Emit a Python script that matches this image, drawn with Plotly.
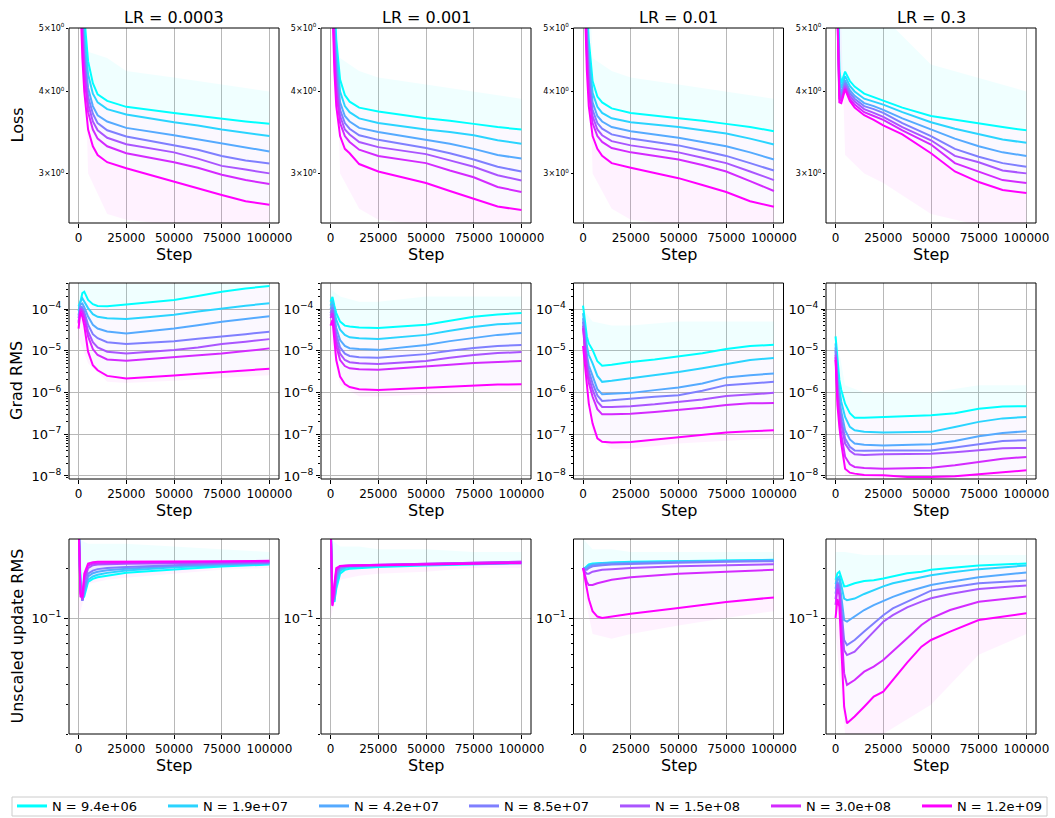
import math
import plotly.graph_objects as go

# ---------------- data ----------------
LR_TITLES = ["LR = 0.0003", "LR = 0.001", "LR = 0.01", "LR = 0.3"]
ROW_LABELS = ["Loss", "Grad RMS", "Unscaled update RMS"]
N_LABELS = ["N = 9.4e+06", "N = 1.9e+07", "N = 4.2e+07", "N = 8.5e+07",
            "N = 1.5e+08", "N = 3.0e+08", "N = 1.2e+09"]
COLORS = ["#00ffff", "#2ad4ff", "#55aaff", "#7f7fff", "#aa55ff", "#d42aff", "#ff00ff"]
X_TICKS = [0, 25000, 50000, 75000, 100000]

STEPS_LOSS = [0, 1000, 2000, 3000, 5000, 7500, 10000, 15000, 25000, 50000, 62500, 75000, 87500, 100000]
STEPS_LOSS_LR03 = [0, 1000, 2000, 3000, 5000, 7500, 10000, 15000, 20000, 25000, 35000, 50000, 62500, 75000, 87500, 100000]
STEPS_GRAD = [0, 1000, 2000, 3000, 5000, 7500, 10000, 15000, 25000, 37500, 50000, 62500, 75000, 87500, 100000]
STEPS_UPD = [0, 1000, 2000, 3000, 5000, 7500, 10000, 15000, 25000, 50000, 75000, 100000]
STEPS_UPD_LR03 = [0, 1000, 2000, 3000, 4500, 6000, 10000, 15000, 20000, 25000, 30000, 37500, 45000, 50000, 60000, 75000, 100000]

LOSS_LR0003 = [
    [10, 7.5, 6.0, 5.2, 4.45, 4.12, 3.96, 3.87, 3.79, 3.71, 3.67, 3.635, 3.60, 3.57],
    [10, 7.0, 5.6, 4.9, 4.25, 3.97, 3.85, 3.76, 3.69, 3.59, 3.55, 3.50, 3.46, 3.42],
    [10, 6.6, 5.3, 4.65, 4.05, 3.80, 3.68, 3.60, 3.52, 3.43, 3.38, 3.33, 3.28, 3.24],
    [10, 6.3, 5.1, 4.5, 3.93, 3.70, 3.58, 3.49, 3.415, 3.31, 3.26, 3.19, 3.14, 3.107],
    [10, 6.1, 4.95, 4.4, 3.83, 3.60, 3.49, 3.40, 3.324, 3.23, 3.16, 3.08, 3.04, 3.00],
    [10, 5.9, 4.8, 4.25, 3.72, 3.50, 3.39, 3.30, 3.22, 3.12, 3.06, 2.985, 2.93, 2.89],
    [10, 5.5, 4.5, 4.0, 3.50, 3.30, 3.20, 3.12, 3.055, 2.915, 2.84, 2.78, 2.72, 2.687],
]
LOSS_LR001 = [
    [10, 7.0, 5.5, 4.8, 4.17, 3.95, 3.86, 3.78, 3.73, 3.64, 3.61, 3.57, 3.53, 3.50],
    [10, 6.6, 5.2, 4.6, 4.0, 3.80, 3.72, 3.64, 3.58, 3.50, 3.47, 3.43, 3.37, 3.33],
    [10, 6.3, 5.0, 4.4, 3.85, 3.67, 3.60, 3.52, 3.47, 3.375, 3.33, 3.27, 3.20, 3.16],
    [10, 6.1, 4.85, 4.25, 3.75, 3.58, 3.51, 3.43, 3.375, 3.28, 3.22, 3.15, 3.07, 3.02],
    [10, 5.9, 4.7, 4.1, 3.67, 3.50, 3.44, 3.35, 3.29, 3.21, 3.14, 3.07, 2.98, 2.926],
    [10, 5.7, 4.55, 4.0, 3.58, 3.42, 3.35, 3.26, 3.19, 3.11, 3.03, 2.96, 2.86, 2.81],
    [10, 5.4, 4.3, 3.8, 3.42, 3.27, 3.22, 3.10, 3.02, 2.90, 2.82, 2.745, 2.67, 2.637],
]
LOSS_LR01 = [
    [10, 7.0, 5.5, 4.8, 4.15, 3.93, 3.85, 3.77, 3.71, 3.64, 3.61, 3.57, 3.53, 3.48],
    [10, 6.6, 5.2, 4.6, 3.98, 3.79, 3.71, 3.64, 3.59, 3.53, 3.49, 3.45, 3.39, 3.32],
    [10, 6.3, 5.0, 4.4, 3.85, 3.67, 3.60, 3.53, 3.48, 3.40, 3.35, 3.30, 3.23, 3.15],
    [10, 6.1, 4.85, 4.25, 3.75, 3.58, 3.51, 3.44, 3.39, 3.31, 3.25, 3.19, 3.11, 3.03],
    [10, 5.9, 4.7, 4.1, 3.67, 3.50, 3.43, 3.36, 3.31, 3.23, 3.17, 3.11, 3.02, 2.93],
    [10, 5.7, 4.55, 4.0, 3.58, 3.42, 3.35, 3.28, 3.23, 3.15, 3.09, 3.02, 2.92, 2.82],
    [10, 5.4, 4.3, 3.8, 3.42, 3.27, 3.19, 3.11, 3.06, 2.95, 2.88, 2.81, 2.72, 2.668],
]
LOSS_LR03 = [
    [10, 6.0, 4.3, 4.12, 4.29, 4.15, 4.07, 3.97, 3.92, 3.88, 3.78, 3.67, 3.62, 3.58, 3.53, 3.49],
    [10, 5.8, 4.2, 4.05, 4.22, 4.08, 4.00, 3.90, 3.86, 3.82, 3.72, 3.59, 3.51, 3.44, 3.38, 3.34],
    [10, 5.6, 4.1, 3.98, 4.16, 4.02, 3.94, 3.84, 3.80, 3.75, 3.64, 3.50, 3.39, 3.30, 3.23, 3.19],
    [10, 5.5, 4.0, 3.93, 4.12, 3.98, 3.90, 3.80, 3.76, 3.71, 3.58, 3.42, 3.27, 3.18, 3.11, 3.07],
    [10, 5.4, 3.95, 3.90, 4.08, 3.94, 3.86, 3.76, 3.71, 3.66, 3.53, 3.37, 3.19, 3.12, 3.03, 3.00],
    [10, 5.3, 3.9, 3.87, 4.05, 3.90, 3.82, 3.72, 3.67, 3.62, 3.49, 3.32, 3.11, 3.02, 2.93, 2.90],
    [10, 5.2, 3.85, 3.84, 4.03, 3.87, 3.78, 3.68, 3.62, 3.55, 3.44, 3.22, 3.02, 2.91, 2.83, 2.80],
]

GRAD_LR0003 = [
    [1.15e-4, 1.5e-4, 2.4e-4, 2.6e-4, 1.65e-4, 1.3e-4, 1.18e-4, 1.17e-4, 1.29e-4, 1.45e-4, 1.64e-4, 2.05e-4, 2.6e-4, 3.1e-4, 3.56e-4],
    [9e-5, 1.5e-4, 1.8e-4, 1.5e-4, 1.05e-4, 7.5e-5, 6.5e-5, 6.0e-5, 5.75e-5, 6.4e-5, 7.3e-5, 8.7e-5, 1.04e-4, 1.2e-4, 1.37e-4],
    [7e-5, 1.3e-4, 1.35e-4, 1.1e-4, 6.6e-5, 4.2e-5, 3.4e-5, 2.9e-5, 2.6e-5, 2.97e-5, 3.4e-5, 4.1e-5, 4.97e-5, 5.75e-5, 6.7e-5],
    [6e-5, 1.15e-4, 1.1e-4, 8.5e-5, 4.2e-5, 2.5e-5, 2.0e-5, 1.6e-5, 1.45e-5, 1.55e-5, 1.7e-5, 1.95e-5, 2.25e-5, 2.5e-5, 2.86e-5],
    [5e-5, 1.05e-4, 9.5e-5, 7e-5, 2.9e-5, 1.6e-5, 1.2e-5, 9.5e-6, 8.6e-6, 9.5e-6, 1.04e-5, 1.2e-5, 1.45e-5, 1.65e-5, 1.9e-5],
    [4.5e-5, 1.0e-4, 8.5e-5, 6e-5, 2.2e-5, 1.1e-5, 7.9e-6, 6.2e-6, 5.75e-6, 6.3e-6, 6.9e-6, 7.7e-6, 8.6e-6, 9.8e-6, 1.14e-5],
    [3.4e-5, 8.7e-5, 6.5e-5, 4e-5, 9.5e-6, 4.5e-6, 3.4e-6, 2.5e-6, 2.17e-6, 2.4e-6, 2.56e-6, 2.8e-6, 3.1e-6, 3.45e-6, 3.7e-6],
]
GRAD_LR001 = [
    [1.5e-4, 1.95e-4, 1.2e-4, 8e-5, 5e-5, 4e-5, 3.8e-5, 3.6e-5, 3.5e-5, 3.8e-5, 4.2e-5, 5.2e-5, 6.5e-5, 7.4e-5, 8e-5],
    [1.2e-4, 1.6e-4, 9e-5, 5.5e-5, 3.2e-5, 2.4e-5, 2.1e-5, 2.0e-5, 1.9e-5, 2.1e-5, 2.4e-5, 3.0e-5, 3.7e-5, 4.3e-5, 4.6e-5],
    [1e-4, 1.3e-4, 6.5e-5, 3.5e-5, 1.8e-5, 1.3e-5, 1.15e-5, 1.1e-5, 1.05e-5, 1.2e-5, 1.38e-5, 1.7e-5, 2.04e-5, 2.4e-5, 2.66e-5],
    [8e-5, 1.1e-4, 5e-5, 2.5e-5, 1.2e-5, 8.5e-6, 7.5e-6, 7e-6, 6.8e-6, 7.5e-6, 8.3e-6, 1.0e-5, 1.17e-5, 1.3e-5, 1.38e-5],
    [7e-5, 9.5e-5, 4e-5, 1.8e-5, 8.5e-6, 6e-6, 5.3e-6, 5e-6, 4.8e-6, 5.2e-6, 5.7e-6, 6.8e-6, 7.9e-6, 8.8e-6, 9.3e-6],
    [6e-5, 8e-5, 3.2e-5, 1.3e-5, 6e-6, 4.3e-6, 3.8e-6, 3.6e-6, 3.5e-6, 3.8e-6, 4.1e-6, 4.6e-6, 5.1e-6, 5.5e-6, 5.7e-6],
    [4e-5, 5.5e-5, 1.8e-5, 6e-6, 2.4e-6, 1.6e-6, 1.35e-6, 1.2e-6, 1.15e-6, 1.22e-6, 1.29e-6, 1.4e-6, 1.5e-6, 1.55e-6, 1.58e-6],
]
GRAD_LR01 = [
    [1.2e-4, 4.5e-5, 2.2e-5, 1.5e-5, 1.05e-5, 5.6e-6, 4.4e-6, 4.6e-6, 5.4e-6, 6.2e-6, 7.2e-6, 8.7e-6, 1.1e-5, 1.3e-5, 1.39e-5],
    [8e-5, 3e-5, 1.3e-5, 8e-6, 5e-6, 2.5e-6, 1.8e-6, 1.9e-6, 2.17e-6, 2.6e-6, 3.1e-6, 3.8e-6, 4.8e-6, 6.0e-6, 6.7e-6],
    [6e-5, 2e-5, 8e-6, 4.5e-6, 2.4e-6, 1.2e-6, 9.1e-7, 9.2e-7, 9.8e-7, 1.14e-6, 1.32e-6, 1.65e-6, 2.3e-6, 2.6e-6, 2.86e-6],
    [5e-5, 1.5e-5, 6e-6, 3.3e-6, 1.66e-6, 8.5e-7, 6.3e-7, 6.5e-7, 7.2e-7, 7.9e-7, 8.6e-7, 1.1e-6, 1.5e-6, 1.65e-6, 1.8e-6],
    [4e-5, 1.2e-5, 4.5e-6, 2.4e-6, 1.15e-6, 6e-7, 4.5e-7, 4.5e-7, 4.7e-7, 5.2e-7, 6e-7, 6.8e-7, 8.2e-7, 9.1e-7, 9.8e-7],
    [3.5e-5, 9e-6, 3.3e-6, 1.7e-6, 7.9e-7, 4e-7, 3e-7, 3e-7, 3.1e-7, 3.4e-7, 3.8e-7, 4.3e-7, 5e-7, 5.5e-7, 5.6e-7],
    [1.3e-5, 5e-6, 1.4e-6, 5.5e-7, 1.8e-7, 8e-8, 6.6e-8, 6.3e-8, 6.5e-8, 7.4e-8, 8.6e-8, 9.5e-8, 1.1e-7, 1.18e-7, 1.25e-7],
]
GRAD_LR03 = [
    [2.2e-5, 5e-6, 2e-6, 1.15e-6, 5.4e-7, 3.2e-7, 2.5e-7, 2.5e-7, 2.6e-7, 2.75e-7, 2.86e-7, 3.2e-7, 4.1e-7, 4.6e-7, 4.7e-7],
    [1.5e-5, 3e-6, 1.2e-6, 6e-7, 2.6e-7, 1.5e-7, 1.25e-7, 1.15e-7, 1.1e-7, 1.14e-7, 1.14e-7, 1.5e-7, 1.98e-7, 2.4e-7, 2.6e-7],
    [1.2e-5, 2e-6, 7e-7, 3.5e-7, 1.25e-7, 7.5e-8, 6e-8, 5.6e-8, 5.4e-8, 5.5e-8, 5.75e-8, 6.9e-8, 8.95e-8, 1.07e-7, 1.18e-7],
    [1e-5, 1.5e-6, 5e-7, 2.3e-7, 7.9e-8, 5e-8, 4.1e-8, 4e-8, 4.1e-8, 4.1e-8, 4.1e-8, 4.8e-8, 5.75e-8, 6.9e-8, 7.2e-8],
    [8e-6, 1.2e-6, 4e-7, 1.8e-7, 6e-8, 4e-8, 3.3e-8, 3.2e-8, 3.3e-8, 3.4e-8, 3.4e-8, 3.7e-8, 4.1e-8, 4.6e-8, 4.7e-8],
    [7e-6, 8e-7, 2.5e-7, 1e-7, 2.9e-8, 1.9e-8, 1.65e-8, 1.55e-8, 1.5e-8, 1.55e-8, 1.58e-8, 1.8e-8, 2.2e-8, 2.6e-8, 2.86e-8],
    [6e-6, 5e-7, 1.5e-7, 6e-8, 1.5e-8, 1.2e-8, 1.14e-8, 1.05e-8, 1.04e-8, 9.5e-9, 9.5e-9, 9.8e-9, 1.1e-8, 1.25e-8, 1.37e-8],
]

UPD_LR0003 = [
    [0.4, 0.17, 0.13, 0.135, 0.165, 0.172, 0.176, 0.18, 0.1875, 0.196, 0.204, 0.210],
    [0.4, 0.16, 0.128, 0.14, 0.17, 0.178, 0.182, 0.187, 0.193, 0.202, 0.208, 0.212],
    [0.4, 0.155, 0.127, 0.145, 0.178, 0.186, 0.19, 0.194, 0.198, 0.206, 0.211, 0.214],
    [0.4, 0.15, 0.127, 0.15, 0.185, 0.193, 0.197, 0.2, 0.203, 0.209, 0.213, 0.215],
    [0.4, 0.145, 0.128, 0.165, 0.2, 0.208, 0.21, 0.211, 0.212, 0.214, 0.216, 0.217],
    [0.4, 0.14, 0.13, 0.175, 0.207, 0.213, 0.214, 0.215, 0.215, 0.217, 0.218, 0.219],
    [0.4, 0.135, 0.135, 0.185, 0.213, 0.217, 0.218, 0.218, 0.218, 0.219, 0.22, 0.221],
]
UPD_LR001 = [
    [0.4, 0.13, 0.125, 0.15, 0.185, 0.195, 0.198, 0.2, 0.203, 0.207, 0.211, 0.214],
    [0.4, 0.128, 0.127, 0.16, 0.192, 0.2, 0.202, 0.204, 0.206, 0.209, 0.212, 0.215],
    [0.4, 0.126, 0.13, 0.17, 0.198, 0.203, 0.205, 0.206, 0.207, 0.21, 0.213, 0.216],
    [0.4, 0.124, 0.135, 0.18, 0.202, 0.205, 0.206, 0.207, 0.208, 0.211, 0.214, 0.217],
    [0.4, 0.122, 0.14, 0.19, 0.205, 0.207, 0.207, 0.208, 0.209, 0.212, 0.215, 0.218],
    [0.4, 0.12, 0.15, 0.195, 0.206, 0.207, 0.208, 0.208, 0.209, 0.212, 0.215, 0.218],
    [0.4, 0.118, 0.16, 0.2, 0.206, 0.207, 0.207, 0.207, 0.208, 0.21, 0.212, 0.214],
]
UPD_LR01 = [
    [0.2, 0.2, 0.205, 0.21, 0.213, 0.214, 0.215, 0.216, 0.218, 0.22, 0.222, 0.224],
    [0.2, 0.2, 0.203, 0.208, 0.211, 0.213, 0.214, 0.215, 0.217, 0.219, 0.221, 0.223],
    [0.2, 0.198, 0.2, 0.205, 0.209, 0.211, 0.212, 0.213, 0.215, 0.218, 0.22, 0.222],
    [0.2, 0.195, 0.195, 0.2, 0.205, 0.207, 0.208, 0.21, 0.212, 0.215, 0.218, 0.22],
    [0.2, 0.19, 0.185, 0.185, 0.19, 0.193, 0.195, 0.197, 0.2, 0.205, 0.208, 0.211],
    [0.2, 0.18, 0.165, 0.158, 0.158, 0.162, 0.165, 0.17, 0.176, 0.185, 0.19, 0.195],
    [0.2, 0.17, 0.145, 0.13, 0.11, 0.102, 0.1, 0.102, 0.106, 0.115, 0.125, 0.133],
]
UPD_LR03 = [
    [0.17, 0.186, 0.19, 0.173, 0.155, 0.156, 0.162, 0.167, 0.169, 0.173, 0.1774, 0.186, 0.19, 0.195, 0.2, 0.207, 0.213],
    [0.16, 0.175, 0.178, 0.155, 0.131, 0.128, 0.131, 0.1396, 0.1476, 0.155, 0.162, 0.169, 0.1774, 0.181, 0.188, 0.197, 0.207],
    [0.15, 0.173, 0.169, 0.134, 0.097, 0.095, 0.102, 0.1117, 0.1197, 0.127, 0.134, 0.144, 0.1531, 0.158, 0.1656, 0.176, 0.188],
    [0.14, 0.165, 0.155, 0.112, 0.0737, 0.0687, 0.0737, 0.0828, 0.0929, 0.104, 0.1143, 0.1254, 0.1377, 0.1462, 0.1525, 0.1618, 0.168],
    [0.13, 0.16, 0.147, 0.102, 0.064, 0.0598, 0.0627, 0.072, 0.0828, 0.095, 0.104, 0.116, 0.1254, 0.1315, 0.1396, 0.1496, 0.157],
    [0.12, 0.15, 0.138, 0.0847, 0.0465, 0.0395, 0.0423, 0.0475, 0.0509, 0.0558, 0.0627, 0.0755, 0.0908, 0.0995, 0.1117, 0.1254, 0.1346],
    [0.10, 0.13, 0.117, 0.061, 0.0292, 0.0232, 0.0255, 0.0292, 0.0336, 0.036, 0.0423, 0.0538, 0.0672, 0.0737, 0.0828, 0.0973, 0.1067],
]

# faint run-to-run spread: upper edge of the cyan haze and lower edge of the magenta haze
HAZE_STEPS = [0, 5000, 15000, 25000, 50000, 75000, 100000]
HAZE_LOSS_HI = [[10, 4.6, 4.5, 4.3, 4.2, 4.1, 4.0], [10, 4.5, 4.3, 4.2, 4.1, 4.0, 3.9],
                [10, 4.5, 4.3, 4.2, 4.1, 4.0, 3.9], [10, 5.5, 5.5, 5.2, 4.4, 4.2, 4.0]]
HAZE_LOSS_LO = [[10, 3.0, 2.6, 2.55, 2.5, 2.5, 2.5], [10, 3.0, 2.65, 2.55, 2.5, 2.5, 2.5],
                [10, 3.0, 2.65, 2.55, 2.5, 2.5, 2.5], [10, 3.2, 3.0, 2.9, 2.6, 2.5, 2.5]]
HAZE_GRAD_HI = [[4e-4, 4e-4, 4e-4, 4e-4, 4e-4, 4e-4, 4e-4], [3e-4, 2e-4, 1.5e-4, 1.5e-4, 2e-4, 2e-4, 2e-4],
                [1e-4, 5e-5, 4e-5, 4e-5, 5e-5, 5e-5, 5e-5], [3e-5, 1.5e-6, 1e-6, 1e-6, 1e-6, 1.5e-6, 1.5e-6]]
HAZE_GRAD_LO = [[2e-5, 5e-6, 1.8e-6, 1.7e-6, 1.9e-6, 2.2e-6, 2.6e-6], [2e-5, 1.5e-6, 8e-7, 8e-7, 9e-7, 1e-6, 1.1e-6],
                [5e-6, 1e-7, 4.5e-8, 4.5e-8, 6e-8, 7e-8, 8e-8], [3e-6, 1e-8, 8.5e-9, 8.5e-9, 8.5e-9, 8.5e-9, 9e-9]]
HAZE_UPD_HI = [[0.3, 0.28, 0.28, 0.28, 0.27, 0.26, 0.25], [0.3, 0.27, 0.27, 0.26, 0.26, 0.25, 0.25],
               [0.3, 0.26, 0.26, 0.25, 0.25, 0.25, 0.25], [0.25, 0.25, 0.24, 0.24, 0.24, 0.24, 0.24]]
HAZE_UPD_LO = [[0.1, 0.16, 0.17, 0.175, 0.185, 0.195, 0.2], [0.1, 0.17, 0.18, 0.185, 0.19, 0.2, 0.2],
               [0.15, 0.08, 0.075, 0.08, 0.09, 0.1, 0.11], [0.08, 0.02, 0.02, 0.02, 0.03, 0.06, 0.08]]

PANELS = [
    [(STEPS_LOSS, LOSS_LR0003), (STEPS_LOSS, LOSS_LR001), (STEPS_LOSS, LOSS_LR01), (STEPS_LOSS_LR03, LOSS_LR03)],
    [(STEPS_GRAD, GRAD_LR0003), (STEPS_GRAD, GRAD_LR001), (STEPS_GRAD, GRAD_LR01), (STEPS_GRAD, GRAD_LR03)],
    [(STEPS_UPD, UPD_LR0003), (STEPS_UPD, UPD_LR001), (STEPS_UPD, UPD_LR01), (STEPS_UPD_LR03, UPD_LR03)],
]
HAZES = [(HAZE_LOSS_HI, HAZE_LOSS_LO), (HAZE_GRAD_HI, HAZE_GRAD_LO), (HAZE_UPD_HI, HAZE_UPD_LO)]

# ---------------- layout geometry (pixels) ----------------
W, H = 1055, 818
COL_PX = [(69, 279), (321, 531), (573.5, 783.5), (826, 1036)]
ROW_PX = [(28, 223), (283, 479), (539, 734)]
Y_RANGES = [[math.log10(2.52), math.log10(5.0)], [-8.072, -3.377], [-1.699, -0.524]]
LEGEND_LINE_X = [16, 167, 318, 468, 619, 770, 921]
FONT = "DejaVu Sans"
GRID = "#b8b8b8"

fig = go.Figure()
layout = dict(
    template="none",
    width=W, height=H, autosize=False,
    margin=dict(l=0, r=0, t=0, b=0, pad=0, autoexpand=False),
    paper_bgcolor="white", plot_bgcolor="white",
    font=dict(family=FONT, color="black", size=12),
    showlegend=True,
)

sup = lambda e: "10<sup>\u2212%d</sup>" % e
grad_major = [10.0 ** -e for e in range(8, 3, -1)]
grad_minor = [m * 10.0 ** -e for e in range(9, 3, -1) for m in range(2, 10)]
upd_minor = [0.02, 0.03, 0.04, 0.05, 0.06, 0.07, 0.08, 0.09, 0.2, 0.3]

annotations = []
shapes = []
for r in range(3):
    for c in range(4):
        k = r * 4 + c + 1
        xs = "" if k == 1 else str(k)
        x0, x1 = COL_PX[c]
        yt, yb = ROW_PX[r]
        xaxis = dict(
            domain=[x0 / W, x1 / W], anchor="y" + xs,
            range=[-5000, 105000], tickmode="array", tickvals=X_TICKS,
            ticktext=[str(v) for v in X_TICKS],
            showgrid=True, gridcolor=GRID, gridwidth=1, showline=False,
            ticks="outside", ticklen=4, tickwidth=1, tickcolor="black",
            tickfont=dict(size=12, family=FONT, color="black"), zeroline=False,
        )
        yaxis = dict(
            domain=[1 - yb / H, 1 - yt / H], anchor="x" + xs, type="log",
            range=Y_RANGES[r], showline=False,
            ticks="outside", tickwidth=1, tickcolor="black", zeroline=False,
        )
        if r == 0:
            yaxis.update(tickmode="array", tickvals=[3, 4, 5],
                         ticktext=["3\u00d710<sup>0</sup>", "4\u00d710<sup>0</sup>", "5\u00d710<sup>0</sup>"],
                         tickfont=dict(size=8, family=FONT, color="black"), ticklen=2,
                         showgrid=False)
        elif r == 1:
            yaxis.update(tickmode="array", tickvals=grad_major,
                         ticktext=[sup(e) for e in range(8, 3, -1)],
                         tickfont=dict(size=13, family=FONT, color="black"), ticklen=4,
                         showgrid=True, gridcolor=GRID, gridwidth=1,
                         minor=dict(tickmode="array", tickvals=grad_minor, ticks="outside",
                                    ticklen=2, tickwidth=1, tickcolor="black", showgrid=False))
        else:
            yaxis.update(tickmode="array", tickvals=[0.1], ticktext=[sup(1)],
                         tickfont=dict(size=13, family=FONT, color="black"), ticklen=4,
                         showgrid=True, gridcolor=GRID, gridwidth=1,
                         minor=dict(tickmode="array", tickvals=upd_minor, ticks="outside",
                                    ticklen=2, tickwidth=1, tickcolor="black", showgrid=False))
        layout["xaxis" + xs] = xaxis
        layout["yaxis" + xs] = yaxis

        # axes frame
        shapes.append(dict(type="rect", xref="x%s domain" % xs, yref="y%s domain" % xs,
                           x0=0, x1=1, y0=0, y1=1, line=dict(color="black", width=1),
                           fillcolor="rgba(0,0,0,0)", layer="above"))

        steps, series = PANELS[r][c]
        hi, lo = HAZES[r][0][c], HAZES[r][1][c]
        top, bot = series[0], series[-1]
        # faint hazes (drawn beneath the lines)
        for px, py, col in [
            (HAZE_STEPS + steps[::-1], hi + top[::-1], "rgba(0,255,255,0.06)"),
            (steps + steps[::-1], top + bot[::-1], "rgba(170,110,255,0.05)"),
            (steps + HAZE_STEPS[::-1], bot + lo[::-1], "rgba(255,0,255,0.05)"),
        ]:
            fig.add_trace(go.Scatter(x=px, y=py, mode="lines", fill="toself", fillcolor=col,
                                     line=dict(width=0, color="rgba(0,0,0,0)"),
                                     xaxis="x" + xs, yaxis="y" + xs, showlegend=False,
                                     hoverinfo="skip"))
        for i, vals in enumerate(series):
            fig.add_trace(go.Scatter(
                x=steps, y=vals, mode="lines", xaxis="x" + xs, yaxis="y" + xs,
                line=dict(color=COLORS[i], width=2), showlegend=False, hoverinfo="skip",
            ))

        xc = (x0 + x1) / 2 / W
        annotations.append(dict(text="Step", x=xc, y=1 - (yb + 31) / H, xref="paper", yref="paper",
                                showarrow=False, font=dict(size=16, family=FONT, color="black"),
                                xanchor="center", yanchor="middle"))
        if r == 0:
            annotations.append(dict(text=LR_TITLES[c], x=xc, y=1 - 17 / H, xref="paper", yref="paper",
                                    showarrow=False, font=dict(size=16, family=FONT, color="black"),
                                    xanchor="center", yanchor="middle"))
    annotations.append(dict(text=ROW_LABELS[r], x=17 / W, y=1 - (ROW_PX[r][0] + ROW_PX[r][1]) / 2 / H,
                            xref="paper", yref="paper", showarrow=False, textangle=-90,
                            font=dict(size=16, family=FONT, color="black"),
                            xanchor="center", yanchor="middle"))

# legend: one single-entry legend per series, placed at the reference positions
for i, lab in enumerate(N_LABELS):
    lid = "legend" if i == 0 else "legend%d" % (i + 1)
    fig.add_trace(go.Scatter(x=[None], y=[None], mode="lines", name=lab, legend=lid,
                             line=dict(color=COLORS[i], width=3), showlegend=True))
    layout[lid] = dict(
        orientation="h", x=(LEGEND_LINE_X[i] - 4) / W, xanchor="left",
        y=1 - 806 / H, yanchor="middle", borderwidth=0, bgcolor="rgba(0,0,0,0)",
        font=dict(size=13, family=FONT, color="black"), itemwidth=30,
    )
shapes.append(dict(type="rect", xref="paper", yref="paper", x0=12 / W, x1=1047 / W,
                   y0=1 - 816 / H, y1=1 - 797 / H, line=dict(color="#cccccc", width=1),
                   fillcolor="rgba(0,0,0,0)", layer="below"))

layout["annotations"] = annotations
layout["shapes"] = shapes
fig.update_layout(**layout)
fig.write_html("out.html", config={"displayModeBar": False, "staticPlot": True},
               post_script="document.body.style.margin='0px';document.body.style.overflow='hidden';")
